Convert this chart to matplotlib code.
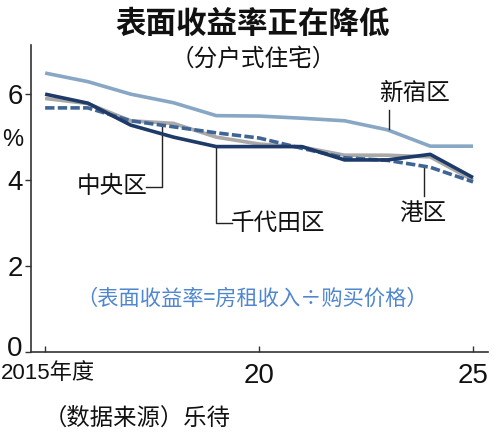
import matplotlib
matplotlib.use("Agg")
import matplotlib.pyplot as plt
import matplotlib.transforms as mtransforms

plt.rcParams['font.family'] = ['Noto Sans CJK SC', 'DejaVu Sans']

years = [2015, 2016, 2017, 2018, 2019, 2020, 2021, 2022, 2023, 2024, 2025]
shinjuku = [6.49, 6.29, 6.00, 5.80, 5.50, 5.49, 5.44, 5.38, 5.17, 4.79, 4.79]
chiyoda = [6.00, 5.79, 5.28, 5.00, 4.78, 4.78, 4.78, 4.47, 4.47, 4.60, 4.06]
chuo = [5.90, 5.78, 5.38, 5.32, 5.00, 4.84, 4.77, 4.58, 4.58, 4.54, 4.00]
minato = [5.68, 5.68, 5.38, 5.24, 5.10, 4.98, 4.74, 4.52, 4.46, 4.30, 3.96]

yticks = [0, 2, 4, 6]
xticks = [2015, 2020, 2025]
xticklabels = ['2015年度', '20', '25']

tickfam = ['Liberation Sans', 'Noto Sans CJK SC']

fig = plt.figure(figsize=(5.0, 4.38), dpi=100)
ax = fig.add_axes([0.062, 0.196, 0.914, 0.701])

ax.plot(years, shinjuku, color='#87a7c5', lw=2.6, solid_capstyle='butt', zorder=2)
ax.plot(years, chuo, color='#a9a9a9', lw=2.6, solid_capstyle='butt', zorder=3)
ax.plot(years, minato, color='#3f6595', lw=2.6, ls=(0, (2.6, 0.9)), zorder=4)
ax.plot(years, chiyoda, color='#1d3a68', lw=2.6, solid_capstyle='butt', zorder=5)

ax.set_xlim(2014.67, 2025.35)
ax.set_ylim(0, 7.14)
ax.set_yticks(yticks)
ax.set_xticks(xticks)
ax.set_xticklabels(xticklabels)
for s in ['top', 'right']:
    ax.spines[s].set_visible(False)
for s in ['left', 'bottom']:
    ax.spines[s].set_color('#333333')
    ax.spines[s].set_linewidth(1.2)
ax.tick_params(axis='y', direction='out', length=4, width=1, colors='#333333',
               labelsize=20, pad=2)
ax.tick_params(axis='x', direction='in', length=4, width=1, colors='#333333',
               labelsize=20, pad=8)
for lab in ax.get_xticklabels() + ax.get_yticklabels():
    lab.set_color('#111111')
    lab.set_family(tickfam)
xl0 = ax.get_xticklabels()[0]
xl0.set_fontsize(16)
xl0.set_transform(xl0.get_transform() +
                  mtransforms.ScaledTranslation(3 / 100, 0, fig.dpi_scale_trans))
# lift the "0" label a little above the axis line
ylabs = ax.get_yticklabels()
ylabs[0].set_transform(ylabs[0].get_transform() +
                       mtransforms.ScaledTranslation(0, 6 / 100, fig.dpi_scale_trans))

# series labels with leader lines
lc = '#222222'
ax.text(2023.64, 6.02, '新宿区', fontsize=17, ha='center', va='center', color='#111111')
ax.plot([2023.04, 2023.04], [5.2, 5.63], color=lc, lw=1)

ax.text(2016.57, 3.85, '中央区', fontsize=17, ha='center', va='center', color='#111111')
ax.plot([2017.35, 2017.72, 2017.72], [3.85, 3.85, 5.33], color=lc, lw=1)

ax.text(2020.45, 3.0, '千代田区', fontsize=17, ha='center', va='center', color='#111111')
ax.plot([2019.36, 2019.0, 2019.0], [3.0, 3.0, 4.78], color=lc, lw=1)

ax.text(2023.82, 3.22, '港区', fontsize=17, ha='center', va='center', color='#111111')
ax.plot([2023.85, 2023.85], [3.62, 4.32], color=lc, lw=1)

ax.text(2019.83, 1.25, '（表面收益率=房租收入÷购买价格）', fontsize=15.3,
        ha='center', va='center', color='#4f86d0')

fig.text(0.026, 0.68, '%', fontsize=17, ha='center', va='center', color='#111111',
         family=tickfam)

fig.text(0.506, 0.945, '表面收益率正在降低', fontsize=22, fontweight='bold',
         ha='center', va='center', color='#111111')
fig.text(0.506, 0.866, '（分户式住宅）', fontsize=17, ha='center', va='center',
         color='#111111')
fig.text(0.275, 0.045, '（数据来源）乐待', fontsize=16.8, ha='center', va='center',
         color='#111111')

fig.savefig('out.png', dpi=100)
